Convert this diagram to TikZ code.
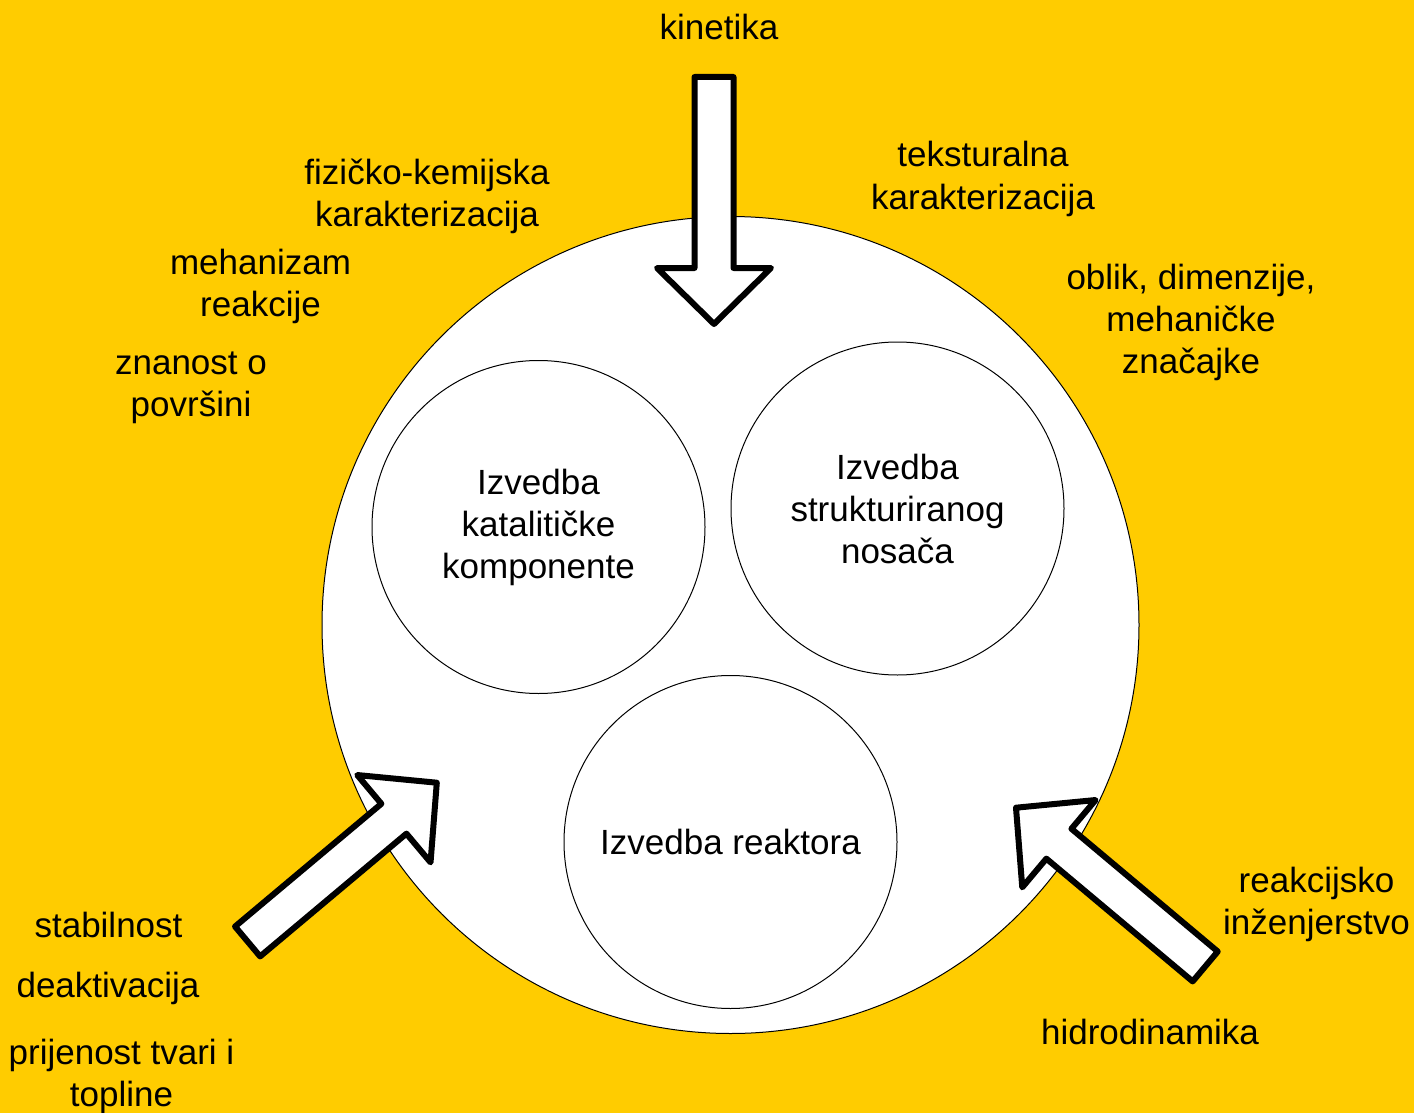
\documentclass[tikz,border=0pt]{standalone}
\usepackage{fontspec}
\setmainfont{Liberation Sans}
\definecolor{bgyellow}{RGB}{255,204,0}
\tikzset{
  txt/.style={font=\fontsize{17.5pt}{21pt}\selectfont, align=center, inner sep=0pt},
  lbl/.style={txt, anchor=base},
  bigc/.style={circle, draw=black, line width=0.5pt, fill=white, minimum size=408.5pt, inner sep=0pt},
  smallc/.style={circle, draw=black, line width=0.5pt, fill=white, minimum size=166.5pt, inner sep=0pt, txt},
  arrowline/.style={draw=black, fill=white, line width=3pt, line join=round},
  blockarrow/.pic={
    \draw[arrowline] (0,0) -- (-56,-57) -- (-56,-19.5) -- (-247,-19.5)
      -- (-247,19.5) -- (-56,19.5) -- (-56,57) -- cycle;
  }
}
\begin{document}
\begin{tikzpicture}[x=0.5pt,y=-0.5pt]
\fill[bgyellow] (0,0) rectangle (1414,1113);
\useasboundingbox (0,0) rectangle (1414,1113);

\node[bigc] (big) at (730.5,625) {};

\node[smallc] (kat) at (538.5,527) {Izvedba\\katalitičke\\komponente};
\node[smallc] (nos) at (897.5,508.5) {Izvedba\\strukturiranog\\nosača};
\node[smallc] (rea) at (730.5,842) {Izvedba reaktora};

\pic[rotate=-90] at (714,324) {blockarrow};
\pic[rotate=40] at (436.8,782.7) {blockarrow};
\pic[rotate=140] at (1016,807.7) {blockarrow};

% anchor=base of a multi-line label is the baseline of its last line
\node[lbl] (kin) at (719,40) {kinetika};
\node[lbl] (fiz) at (427,227) {fizičko-kemijska\\karakterizacija};
\node[lbl] (meh) at (260.5,316) {mehanizam\\reakcije};
\node[lbl] (zna) at (191,416) {znanost o\\površini};
\node[lbl] (tek) at (983,209) {teksturalna\\karakterizacija};
\node[lbl] (obl) at (1191,373) {oblik, dimenzije,\\mehaničke\\značajke};
\node[lbl] (sta) at (108.5,937) {stabilnost};
\node[lbl] (dea) at (108,997) {deaktivacija};
\node[lbl] (pri) at (121.5,1106) {prijenost tvari i\\topline};
\node[lbl] (rin) at (1316.5,934) {reakcijsko\\inženjerstvo};
\node[lbl] (hid) at (1150,1044) {hidrodinamika};
\end{tikzpicture}
\end{document}
